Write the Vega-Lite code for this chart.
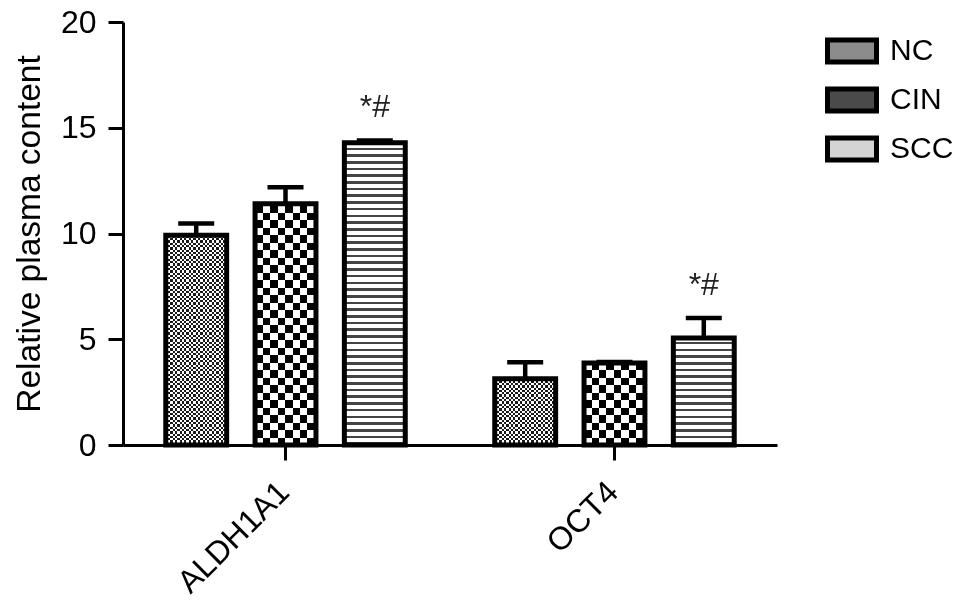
{
"$schema": "https://vega.github.io/schema/vega-lite/v6.json",
"width": 654, "height": 423,
"autosize": {"type": "none"},
"padding": {"left": 123, "top": 22, "right": 192, "bottom": 156},
"background": "white",
"config": {"view": {"stroke": null}, "font": "Liberation Sans",
 "axis": {"domainColor": "black", "domainWidth": 3, "tickColor": "black", "tickWidth": 3, "tickSize": 15, "labelColor": "black", "labelFontSize": 32, "labelFont": "Liberation Sans", "titleFont": "Liberation Sans", "titleFontSize": 33.5, "titleFontWeight": "normal", "titleColor": "black", "grid": false}},
"data": {"values": [
 {"gene": "ALDH1A1", "group": "NC", "mean": 9.92, "upper": 10.47, "sig": ""},
 {"gene": "ALDH1A1", "group": "CIN", "mean": 11.41, "upper": 12.19, "sig": ""},
 {"gene": "ALDH1A1", "group": "SCC", "mean": 14.29, "upper": 14.4, "sig": "*#"},
 {"gene": "OCT4", "group": "NC", "mean": 3.13, "upper": 3.91, "sig": ""},
 {"gene": "OCT4", "group": "CIN", "mean": 3.88, "upper": 3.92, "sig": ""},
 {"gene": "OCT4", "group": "SCC", "mean": 5.06, "upper": 6.0, "sig": "*#"}
]},
"encoding": {
 "x": {"field": "gene", "type": "nominal", "title": null, "scale": {"paddingInner": 0.272, "paddingOuter": 0.13}, "axis": {"labelAngle": -45, "labelPadding": 16, "labelOffset": -12}},
 "xOffset": {"field": "group", "type": "nominal", "scale": {"domain": ["NC", "CIN", "SCC"], "paddingInner": 0.318, "paddingOuter": 0}}
},
"layer": [
 {"transform": [{"filter": "datum.group === 'NC'"}],
  "mark": {"type": "bar", "fill": {"gradient": "linear", "x1": 0, "y1": 0.4563, "x2": 0, "y2": 1, "stops": [
{"offset":0,"color":"#000"},
{"offset":0.01,"color":"#000"},{"offset":0.01,"color":"#fff"},{"offset":0.02,"color":"#fff"},{"offset":0.02,"color":"#000"},
{"offset":0.03,"color":"#000"},{"offset":0.03,"color":"#fff"},{"offset":0.04,"color":"#fff"},{"offset":0.04,"color":"#000"},
{"offset":0.05,"color":"#000"},{"offset":0.05,"color":"#fff"},{"offset":0.06,"color":"#fff"},{"offset":0.06,"color":"#000"},
{"offset":0.07,"color":"#000"},{"offset":0.07,"color":"#fff"},{"offset":0.08,"color":"#fff"},{"offset":0.08,"color":"#000"},
{"offset":0.09,"color":"#000"},{"offset":0.09,"color":"#fff"},{"offset":0.1,"color":"#fff"},{"offset":0.1,"color":"#000"},
{"offset":0.11,"color":"#000"},{"offset":0.11,"color":"#fff"},{"offset":0.12,"color":"#fff"},{"offset":0.12,"color":"#000"},
{"offset":0.13,"color":"#000"},{"offset":0.13,"color":"#fff"},{"offset":0.14,"color":"#fff"},{"offset":0.14,"color":"#000"},
{"offset":0.15,"color":"#000"},{"offset":0.15,"color":"#fff"},{"offset":0.16,"color":"#fff"},{"offset":0.16,"color":"#000"},
{"offset":0.17,"color":"#000"},{"offset":0.17,"color":"#fff"},{"offset":0.18,"color":"#fff"},{"offset":0.18,"color":"#000"},
{"offset":0.19,"color":"#000"},{"offset":0.19,"color":"#fff"},{"offset":0.2,"color":"#fff"},{"offset":0.2,"color":"#000"},
{"offset":0.21,"color":"#000"},{"offset":0.21,"color":"#fff"},{"offset":0.22,"color":"#fff"},{"offset":0.22,"color":"#000"},
{"offset":0.23,"color":"#000"},{"offset":0.23,"color":"#fff"},{"offset":0.24,"color":"#fff"},{"offset":0.24,"color":"#000"},
{"offset":0.25,"color":"#000"},{"offset":0.25,"color":"#fff"},{"offset":0.26,"color":"#fff"},{"offset":0.26,"color":"#000"},
{"offset":0.27,"color":"#000"},{"offset":0.27,"color":"#fff"},{"offset":0.28,"color":"#fff"},{"offset":0.28,"color":"#000"},
{"offset":0.29,"color":"#000"},{"offset":0.29,"color":"#fff"},{"offset":0.3,"color":"#fff"},{"offset":0.3,"color":"#000"},
{"offset":0.31,"color":"#000"},{"offset":0.31,"color":"#fff"},{"offset":0.32,"color":"#fff"},{"offset":0.32,"color":"#000"},
{"offset":0.33,"color":"#000"},{"offset":0.33,"color":"#fff"},{"offset":0.34,"color":"#fff"},{"offset":0.34,"color":"#000"},
{"offset":0.35,"color":"#000"},{"offset":0.35,"color":"#fff"},{"offset":0.36,"color":"#fff"},{"offset":0.36,"color":"#000"},
{"offset":0.37,"color":"#000"},{"offset":0.37,"color":"#fff"},{"offset":0.38,"color":"#fff"},{"offset":0.38,"color":"#000"},
{"offset":0.39,"color":"#000"},{"offset":0.39,"color":"#fff"},{"offset":0.4,"color":"#fff"},{"offset":0.4,"color":"#000"},
{"offset":0.41,"color":"#000"},{"offset":0.41,"color":"#fff"},{"offset":0.42,"color":"#fff"},{"offset":0.42,"color":"#000"},
{"offset":0.43,"color":"#000"},{"offset":0.43,"color":"#fff"},{"offset":0.44,"color":"#fff"},{"offset":0.44,"color":"#000"},
{"offset":0.45,"color":"#000"},{"offset":0.45,"color":"#fff"},{"offset":0.46,"color":"#fff"},{"offset":0.46,"color":"#000"},
{"offset":0.47,"color":"#000"},{"offset":0.47,"color":"#fff"},{"offset":0.48,"color":"#fff"},{"offset":0.48,"color":"#000"},
{"offset":0.49,"color":"#000"},{"offset":0.49,"color":"#fff"},{"offset":0.5,"color":"#fff"},{"offset":0.5,"color":"#000"},
{"offset":0.51,"color":"#000"},{"offset":0.51,"color":"#fff"},{"offset":0.52,"color":"#fff"},{"offset":0.52,"color":"#000"},
{"offset":0.53,"color":"#000"},{"offset":0.53,"color":"#fff"},{"offset":0.54,"color":"#fff"},{"offset":0.54,"color":"#000"},
{"offset":0.55,"color":"#000"},{"offset":0.55,"color":"#fff"},{"offset":0.56,"color":"#fff"},{"offset":0.56,"color":"#000"},
{"offset":0.57,"color":"#000"},{"offset":0.57,"color":"#fff"},{"offset":0.58,"color":"#fff"},{"offset":0.58,"color":"#000"},
{"offset":0.59,"color":"#000"},{"offset":0.59,"color":"#fff"},{"offset":0.6,"color":"#fff"},{"offset":0.6,"color":"#000"},
{"offset":0.61,"color":"#000"},{"offset":0.61,"color":"#fff"},{"offset":0.62,"color":"#fff"},{"offset":0.62,"color":"#000"},
{"offset":0.63,"color":"#000"},{"offset":0.63,"color":"#fff"},{"offset":0.64,"color":"#fff"},{"offset":0.64,"color":"#000"},
{"offset":0.65,"color":"#000"},{"offset":0.65,"color":"#fff"},{"offset":0.66,"color":"#fff"},{"offset":0.66,"color":"#000"},
{"offset":0.67,"color":"#000"},{"offset":0.67,"color":"#fff"},{"offset":0.68,"color":"#fff"},{"offset":0.68,"color":"#000"},
{"offset":0.69,"color":"#000"},{"offset":0.69,"color":"#fff"},{"offset":0.7,"color":"#fff"},{"offset":0.7,"color":"#000"},
{"offset":0.71,"color":"#000"},{"offset":0.71,"color":"#fff"},{"offset":0.72,"color":"#fff"},{"offset":0.72,"color":"#000"},
{"offset":0.73,"color":"#000"},{"offset":0.73,"color":"#fff"},{"offset":0.74,"color":"#fff"},{"offset":0.74,"color":"#000"},
{"offset":0.75,"color":"#000"},{"offset":0.75,"color":"#fff"},{"offset":0.76,"color":"#fff"},{"offset":0.76,"color":"#000"},
{"offset":0.77,"color":"#000"},{"offset":0.77,"color":"#fff"},{"offset":0.78,"color":"#fff"},{"offset":0.78,"color":"#000"},
{"offset":0.79,"color":"#000"},{"offset":0.79,"color":"#fff"},{"offset":0.8,"color":"#fff"},{"offset":0.8,"color":"#000"},
{"offset":0.81,"color":"#000"},{"offset":0.81,"color":"#fff"},{"offset":0.82,"color":"#fff"},{"offset":0.82,"color":"#000"},
{"offset":0.83,"color":"#000"},{"offset":0.83,"color":"#fff"},{"offset":0.84,"color":"#fff"},{"offset":0.84,"color":"#000"},
{"offset":0.85,"color":"#000"},{"offset":0.85,"color":"#fff"},{"offset":0.86,"color":"#fff"},{"offset":0.86,"color":"#000"},
{"offset":0.87,"color":"#000"},{"offset":0.87,"color":"#fff"},{"offset":0.88,"color":"#fff"},{"offset":0.88,"color":"#000"},
{"offset":0.89,"color":"#000"},{"offset":0.89,"color":"#fff"},{"offset":0.9,"color":"#fff"},{"offset":0.9,"color":"#000"},
{"offset":0.91,"color":"#000"},{"offset":0.91,"color":"#fff"},{"offset":0.92,"color":"#fff"},{"offset":0.92,"color":"#000"},
{"offset":0.93,"color":"#000"},{"offset":0.93,"color":"#fff"},{"offset":0.94,"color":"#fff"},{"offset":0.94,"color":"#000"},
{"offset":0.95,"color":"#000"},{"offset":0.95,"color":"#fff"},{"offset":0.96,"color":"#fff"},{"offset":0.96,"color":"#000"},
{"offset":0.97,"color":"#000"},{"offset":0.97,"color":"#fff"},{"offset":0.98,"color":"#fff"},{"offset":0.98,"color":"#000"},
{"offset":0.99,"color":"#000"},{"offset":0.99,"color":"#fff"},{"offset":1,"color":"#fff"}
  ]}},
  "encoding": {"y": {"datum": 20, "type": "quantitative", "title": "Relative plasma content", "scale": {"domain": [0, 20], "nice": false}}, "y2": {"datum": 0}}},
 {"transform": [{"filter": "datum.group === 'NC'"}],
  "mark": {"type": "bar", "blend": "difference", "fill": {"gradient": "linear", "x1": 0, "y1": 0, "x2": 1.508, "y2": 0, "stops": [
{"offset":0,"color":"#000"},
{"offset":0.025,"color":"#000"},{"offset":0.025,"color":"#fff"},{"offset":0.05,"color":"#fff"},{"offset":0.05,"color":"#000"},
{"offset":0.075,"color":"#000"},{"offset":0.075,"color":"#fff"},{"offset":0.1,"color":"#fff"},{"offset":0.1,"color":"#000"},
{"offset":0.125,"color":"#000"},{"offset":0.125,"color":"#fff"},{"offset":0.15,"color":"#fff"},{"offset":0.15,"color":"#000"},
{"offset":0.175,"color":"#000"},{"offset":0.175,"color":"#fff"},{"offset":0.2,"color":"#fff"},{"offset":0.2,"color":"#000"},
{"offset":0.225,"color":"#000"},{"offset":0.225,"color":"#fff"},{"offset":0.25,"color":"#fff"},{"offset":0.25,"color":"#000"},
{"offset":0.275,"color":"#000"},{"offset":0.275,"color":"#fff"},{"offset":0.3,"color":"#fff"},{"offset":0.3,"color":"#000"},
{"offset":0.325,"color":"#000"},{"offset":0.325,"color":"#fff"},{"offset":0.35,"color":"#fff"},{"offset":0.35,"color":"#000"},
{"offset":0.375,"color":"#000"},{"offset":0.375,"color":"#fff"},{"offset":0.4,"color":"#fff"},{"offset":0.4,"color":"#000"},
{"offset":0.425,"color":"#000"},{"offset":0.425,"color":"#fff"},{"offset":0.45,"color":"#fff"},{"offset":0.45,"color":"#000"},
{"offset":0.475,"color":"#000"},{"offset":0.475,"color":"#fff"},{"offset":0.5,"color":"#fff"},{"offset":0.5,"color":"#000"},
{"offset":0.525,"color":"#000"},{"offset":0.525,"color":"#fff"},{"offset":0.55,"color":"#fff"},{"offset":0.55,"color":"#000"},
{"offset":0.575,"color":"#000"},{"offset":0.575,"color":"#fff"},{"offset":0.6,"color":"#fff"},{"offset":0.6,"color":"#000"},
{"offset":0.625,"color":"#000"},{"offset":0.625,"color":"#fff"},{"offset":0.65,"color":"#fff"},{"offset":0.65,"color":"#000"},
{"offset":0.675,"color":"#000"},{"offset":0.675,"color":"#fff"},{"offset":0.7,"color":"#fff"},{"offset":0.7,"color":"#000"},
{"offset":0.725,"color":"#000"},{"offset":0.725,"color":"#fff"},{"offset":0.75,"color":"#fff"},{"offset":0.75,"color":"#000"},
{"offset":0.775,"color":"#000"},{"offset":0.775,"color":"#fff"},{"offset":0.8,"color":"#fff"},{"offset":0.8,"color":"#000"},
{"offset":0.825,"color":"#000"},{"offset":0.825,"color":"#fff"},{"offset":0.85,"color":"#fff"},{"offset":0.85,"color":"#000"},
{"offset":0.875,"color":"#000"},{"offset":0.875,"color":"#fff"},{"offset":0.9,"color":"#fff"},{"offset":0.9,"color":"#000"},
{"offset":0.925,"color":"#000"},{"offset":0.925,"color":"#fff"},{"offset":0.95,"color":"#fff"},{"offset":0.95,"color":"#000"},
{"offset":0.975,"color":"#000"},{"offset":0.975,"color":"#fff"},{"offset":1,"color":"#fff"}
  ]}},
  "encoding": {"y": {"datum": 20, "type": "quantitative", "title": "Relative plasma content"}, "y2": {"datum": 0}}},
 {"transform": [{"filter": "datum.group === 'NC'"}],
  "mark": {"type": "bar", "fill": "white", "opacity": 0.1},
  "encoding": {"y": {"datum": 20, "type": "quantitative", "title": "Relative plasma content"}, "y2": {"datum": 0}}},
 {"transform": [{"filter": "datum.group === 'CIN'"}],
  "mark": {"type": "bar", "fill": {"gradient": "linear", "x1": 0, "y1": 0.2908, "x2": 0, "y2": 1, "stops": [
{"offset":0,"color":"#000"},
{"offset":0.025,"color":"#000"},{"offset":0.025,"color":"#fff"},{"offset":0.05,"color":"#fff"},{"offset":0.05,"color":"#000"},
{"offset":0.075,"color":"#000"},{"offset":0.075,"color":"#fff"},{"offset":0.1,"color":"#fff"},{"offset":0.1,"color":"#000"},
{"offset":0.125,"color":"#000"},{"offset":0.125,"color":"#fff"},{"offset":0.15,"color":"#fff"},{"offset":0.15,"color":"#000"},
{"offset":0.175,"color":"#000"},{"offset":0.175,"color":"#fff"},{"offset":0.2,"color":"#fff"},{"offset":0.2,"color":"#000"},
{"offset":0.225,"color":"#000"},{"offset":0.225,"color":"#fff"},{"offset":0.25,"color":"#fff"},{"offset":0.25,"color":"#000"},
{"offset":0.275,"color":"#000"},{"offset":0.275,"color":"#fff"},{"offset":0.3,"color":"#fff"},{"offset":0.3,"color":"#000"},
{"offset":0.325,"color":"#000"},{"offset":0.325,"color":"#fff"},{"offset":0.35,"color":"#fff"},{"offset":0.35,"color":"#000"},
{"offset":0.375,"color":"#000"},{"offset":0.375,"color":"#fff"},{"offset":0.4,"color":"#fff"},{"offset":0.4,"color":"#000"},
{"offset":0.425,"color":"#000"},{"offset":0.425,"color":"#fff"},{"offset":0.45,"color":"#fff"},{"offset":0.45,"color":"#000"},
{"offset":0.475,"color":"#000"},{"offset":0.475,"color":"#fff"},{"offset":0.5,"color":"#fff"},{"offset":0.5,"color":"#000"},
{"offset":0.525,"color":"#000"},{"offset":0.525,"color":"#fff"},{"offset":0.55,"color":"#fff"},{"offset":0.55,"color":"#000"},
{"offset":0.575,"color":"#000"},{"offset":0.575,"color":"#fff"},{"offset":0.6,"color":"#fff"},{"offset":0.6,"color":"#000"},
{"offset":0.625,"color":"#000"},{"offset":0.625,"color":"#fff"},{"offset":0.65,"color":"#fff"},{"offset":0.65,"color":"#000"},
{"offset":0.675,"color":"#000"},{"offset":0.675,"color":"#fff"},{"offset":0.7,"color":"#fff"},{"offset":0.7,"color":"#000"},
{"offset":0.725,"color":"#000"},{"offset":0.725,"color":"#fff"},{"offset":0.75,"color":"#fff"},{"offset":0.75,"color":"#000"},
{"offset":0.775,"color":"#000"},{"offset":0.775,"color":"#fff"},{"offset":0.8,"color":"#fff"},{"offset":0.8,"color":"#000"},
{"offset":0.825,"color":"#000"},{"offset":0.825,"color":"#fff"},{"offset":0.85,"color":"#fff"},{"offset":0.85,"color":"#000"},
{"offset":0.875,"color":"#000"},{"offset":0.875,"color":"#fff"},{"offset":0.9,"color":"#fff"},{"offset":0.9,"color":"#000"},
{"offset":0.925,"color":"#000"},{"offset":0.925,"color":"#fff"},{"offset":0.95,"color":"#fff"},{"offset":0.95,"color":"#000"},
{"offset":0.975,"color":"#000"},{"offset":0.975,"color":"#fff"},{"offset":1,"color":"#fff"}
  ]}},
  "encoding": {"y": {"datum": 20, "type": "quantitative", "title": "Relative plasma content"}, "y2": {"datum": 0}}},
 {"transform": [{"filter": "datum.group === 'CIN'"}],
  "mark": {"type": "bar", "blend": "difference", "fill": {"gradient": "linear", "x1": 0, "y1": 0, "x2": 1.2295, "y2": 0, "stops": [
{"offset":0,"color":"#000"},
{"offset":0.1,"color":"#000"},{"offset":0.1,"color":"#fff"},{"offset":0.2,"color":"#fff"},{"offset":0.2,"color":"#000"},
{"offset":0.3,"color":"#000"},{"offset":0.3,"color":"#fff"},{"offset":0.4,"color":"#fff"},{"offset":0.4,"color":"#000"},
{"offset":0.5,"color":"#000"},{"offset":0.5,"color":"#fff"},{"offset":0.6,"color":"#fff"},{"offset":0.6,"color":"#000"},
{"offset":0.7,"color":"#000"},{"offset":0.7,"color":"#fff"},{"offset":0.8,"color":"#fff"},{"offset":0.8,"color":"#000"},
{"offset":0.9,"color":"#000"},{"offset":0.9,"color":"#fff"},{"offset":1,"color":"#fff"}
  ]}},
  "encoding": {"y": {"datum": 20, "type": "quantitative", "title": "Relative plasma content"}, "y2": {"datum": 0}}},
 {"transform": [{"filter": "datum.group === 'SCC'"}],
  "mark": {"type": "bar", "fill": {"gradient": "linear", "x1": 0, "y1": 0.208, "x2": 0, "y2": 1, "stops": [
{"offset":0,"color":"#fff"},
{"offset":0.012,"color":"#fff"},{"offset":0.012,"color":"#444"},{"offset":0.02,"color":"#444"},{"offset":0.02,"color":"#fff"},
{"offset":0.032,"color":"#fff"},{"offset":0.032,"color":"#444"},{"offset":0.04,"color":"#444"},{"offset":0.04,"color":"#fff"},
{"offset":0.052,"color":"#fff"},{"offset":0.052,"color":"#444"},{"offset":0.06,"color":"#444"},{"offset":0.06,"color":"#fff"},
{"offset":0.072,"color":"#fff"},{"offset":0.072,"color":"#444"},{"offset":0.08,"color":"#444"},{"offset":0.08,"color":"#fff"},
{"offset":0.092,"color":"#fff"},{"offset":0.092,"color":"#444"},{"offset":0.1,"color":"#444"},{"offset":0.1,"color":"#fff"},
{"offset":0.112,"color":"#fff"},{"offset":0.112,"color":"#444"},{"offset":0.12,"color":"#444"},{"offset":0.12,"color":"#fff"},
{"offset":0.132,"color":"#fff"},{"offset":0.132,"color":"#444"},{"offset":0.14,"color":"#444"},{"offset":0.14,"color":"#fff"},
{"offset":0.152,"color":"#fff"},{"offset":0.152,"color":"#444"},{"offset":0.16,"color":"#444"},{"offset":0.16,"color":"#fff"},
{"offset":0.172,"color":"#fff"},{"offset":0.172,"color":"#444"},{"offset":0.18,"color":"#444"},{"offset":0.18,"color":"#fff"},
{"offset":0.192,"color":"#fff"},{"offset":0.192,"color":"#444"},{"offset":0.2,"color":"#444"},{"offset":0.2,"color":"#fff"},
{"offset":0.212,"color":"#fff"},{"offset":0.212,"color":"#444"},{"offset":0.22,"color":"#444"},{"offset":0.22,"color":"#fff"},
{"offset":0.232,"color":"#fff"},{"offset":0.232,"color":"#444"},{"offset":0.24,"color":"#444"},{"offset":0.24,"color":"#fff"},
{"offset":0.252,"color":"#fff"},{"offset":0.252,"color":"#444"},{"offset":0.26,"color":"#444"},{"offset":0.26,"color":"#fff"},
{"offset":0.272,"color":"#fff"},{"offset":0.272,"color":"#444"},{"offset":0.28,"color":"#444"},{"offset":0.28,"color":"#fff"},
{"offset":0.292,"color":"#fff"},{"offset":0.292,"color":"#444"},{"offset":0.3,"color":"#444"},{"offset":0.3,"color":"#fff"},
{"offset":0.312,"color":"#fff"},{"offset":0.312,"color":"#444"},{"offset":0.32,"color":"#444"},{"offset":0.32,"color":"#fff"},
{"offset":0.332,"color":"#fff"},{"offset":0.332,"color":"#444"},{"offset":0.34,"color":"#444"},{"offset":0.34,"color":"#fff"},
{"offset":0.352,"color":"#fff"},{"offset":0.352,"color":"#444"},{"offset":0.36,"color":"#444"},{"offset":0.36,"color":"#fff"},
{"offset":0.372,"color":"#fff"},{"offset":0.372,"color":"#444"},{"offset":0.38,"color":"#444"},{"offset":0.38,"color":"#fff"},
{"offset":0.392,"color":"#fff"},{"offset":0.392,"color":"#444"},{"offset":0.4,"color":"#444"},{"offset":0.4,"color":"#fff"},
{"offset":0.412,"color":"#fff"},{"offset":0.412,"color":"#444"},{"offset":0.42,"color":"#444"},{"offset":0.42,"color":"#fff"},
{"offset":0.432,"color":"#fff"},{"offset":0.432,"color":"#444"},{"offset":0.44,"color":"#444"},{"offset":0.44,"color":"#fff"},
{"offset":0.452,"color":"#fff"},{"offset":0.452,"color":"#444"},{"offset":0.46,"color":"#444"},{"offset":0.46,"color":"#fff"},
{"offset":0.472,"color":"#fff"},{"offset":0.472,"color":"#444"},{"offset":0.48,"color":"#444"},{"offset":0.48,"color":"#fff"},
{"offset":0.492,"color":"#fff"},{"offset":0.492,"color":"#444"},{"offset":0.5,"color":"#444"},{"offset":0.5,"color":"#fff"},
{"offset":0.512,"color":"#fff"},{"offset":0.512,"color":"#444"},{"offset":0.52,"color":"#444"},{"offset":0.52,"color":"#fff"},
{"offset":0.532,"color":"#fff"},{"offset":0.532,"color":"#444"},{"offset":0.54,"color":"#444"},{"offset":0.54,"color":"#fff"},
{"offset":0.552,"color":"#fff"},{"offset":0.552,"color":"#444"},{"offset":0.56,"color":"#444"},{"offset":0.56,"color":"#fff"},
{"offset":0.572,"color":"#fff"},{"offset":0.572,"color":"#444"},{"offset":0.58,"color":"#444"},{"offset":0.58,"color":"#fff"},
{"offset":0.592,"color":"#fff"},{"offset":0.592,"color":"#444"},{"offset":0.6,"color":"#444"},{"offset":0.6,"color":"#fff"},
{"offset":0.612,"color":"#fff"},{"offset":0.612,"color":"#444"},{"offset":0.62,"color":"#444"},{"offset":0.62,"color":"#fff"},
{"offset":0.632,"color":"#fff"},{"offset":0.632,"color":"#444"},{"offset":0.64,"color":"#444"},{"offset":0.64,"color":"#fff"},
{"offset":0.652,"color":"#fff"},{"offset":0.652,"color":"#444"},{"offset":0.66,"color":"#444"},{"offset":0.66,"color":"#fff"},
{"offset":0.672,"color":"#fff"},{"offset":0.672,"color":"#444"},{"offset":0.68,"color":"#444"},{"offset":0.68,"color":"#fff"},
{"offset":0.692,"color":"#fff"},{"offset":0.692,"color":"#444"},{"offset":0.7,"color":"#444"},{"offset":0.7,"color":"#fff"},
{"offset":0.712,"color":"#fff"},{"offset":0.712,"color":"#444"},{"offset":0.72,"color":"#444"},{"offset":0.72,"color":"#fff"},
{"offset":0.732,"color":"#fff"},{"offset":0.732,"color":"#444"},{"offset":0.74,"color":"#444"},{"offset":0.74,"color":"#fff"},
{"offset":0.752,"color":"#fff"},{"offset":0.752,"color":"#444"},{"offset":0.76,"color":"#444"},{"offset":0.76,"color":"#fff"},
{"offset":0.772,"color":"#fff"},{"offset":0.772,"color":"#444"},{"offset":0.78,"color":"#444"},{"offset":0.78,"color":"#fff"},
{"offset":0.792,"color":"#fff"},{"offset":0.792,"color":"#444"},{"offset":0.8,"color":"#444"},{"offset":0.8,"color":"#fff"},
{"offset":0.812,"color":"#fff"},{"offset":0.812,"color":"#444"},{"offset":0.82,"color":"#444"},{"offset":0.82,"color":"#fff"},
{"offset":0.832,"color":"#fff"},{"offset":0.832,"color":"#444"},{"offset":0.84,"color":"#444"},{"offset":0.84,"color":"#fff"},
{"offset":0.852,"color":"#fff"},{"offset":0.852,"color":"#444"},{"offset":0.86,"color":"#444"},{"offset":0.86,"color":"#fff"},
{"offset":0.872,"color":"#fff"},{"offset":0.872,"color":"#444"},{"offset":0.88,"color":"#444"},{"offset":0.88,"color":"#fff"},
{"offset":0.892,"color":"#fff"},{"offset":0.892,"color":"#444"},{"offset":0.9,"color":"#444"},{"offset":0.9,"color":"#fff"},
{"offset":0.912,"color":"#fff"},{"offset":0.912,"color":"#444"},{"offset":0.92,"color":"#444"},{"offset":0.92,"color":"#fff"},
{"offset":0.932,"color":"#fff"},{"offset":0.932,"color":"#444"},{"offset":0.94,"color":"#444"},{"offset":0.94,"color":"#fff"},
{"offset":0.952,"color":"#fff"},{"offset":0.952,"color":"#444"},{"offset":0.96,"color":"#444"},{"offset":0.96,"color":"#fff"},
{"offset":0.972,"color":"#fff"},{"offset":0.972,"color":"#444"},{"offset":0.98,"color":"#444"},{"offset":0.98,"color":"#fff"},
{"offset":0.992,"color":"#fff"},{"offset":0.992,"color":"#444"},{"offset":1,"color":"#444"}
  ]}},
  "encoding": {"y": {"datum": 20, "type": "quantitative", "title": "Relative plasma content"}, "y2": {"datum": 0}}},
 {"mark": {"type": "bar", "fill": "white", "stroke": "white", "strokeWidth": 2},
  "encoding": {"y": {"field": "mean", "type": "quantitative", "title": "Relative plasma content"}, "y2": {"datum": 20}}},
 {"mark": {"type": "bar", "fillOpacity": 0, "stroke": "black", "strokeWidth": 5},
  "encoding": {
   "y": {"field": "mean", "type": "quantitative", "title": "Relative plasma content", "axis": {"values": [0, 5, 10, 15, 20], "labelPadding": 12, "titlePadding": 14}},
   "fill": {"field": "group", "type": "nominal", "sort": ["NC", "CIN", "SCC"], "scale": {"domain": ["NC", "CIN", "SCC"], "range": ["#8c8c8c", "#4a4a4a", "#d4d4d4"]},
    "legend": {"title": null, "orient": "none", "legendX": 702, "legendY": 2, "padding": 0, "symbolType": "M-1,-0.45H1V0.45H-1Z", "symbolSize": 2401, "symbolStrokeColor": "black", "symbolStrokeWidth": 5, "labelFontSize": 30, "labelColor": "black", "labelFont": "Liberation Sans", "labelOffset": 11, "rowPadding": -1}}
  }},
 {"mark": {"type": "rule", "strokeWidth": 4.5, "color": "black"},
  "encoding": {"y": {"field": "mean", "type": "quantitative", "title": "Relative plasma content"}, "y2": {"field": "upper"}}},
 {"mark": {"type": "tick", "thickness": 4.5, "size": 36, "color": "black", "opacity": 1, "orient": "horizontal"},
  "encoding": {"y": {"field": "upper", "type": "quantitative", "title": "Relative plasma content"}}},
 {"transform": [{"filter": "datum.sig !== ''"}],
  "mark": {"type": "text", "fontSize": 32, "dy": -33, "baseline": "middle", "color": "#222", "font": "Liberation Sans"},
  "encoding": {"y": {"field": "upper", "type": "quantitative", "title": "Relative plasma content"}, "text": {"field": "sig"}}}
]
}
